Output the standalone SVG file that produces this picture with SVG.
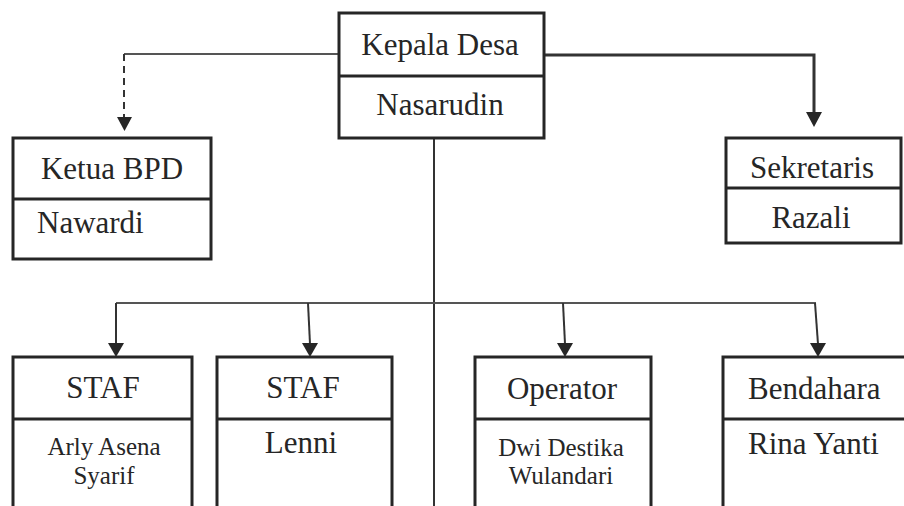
<svg xmlns="http://www.w3.org/2000/svg" width="904" height="506" viewBox="0 0 904 506">
<style>
.box{fill:#fff;stroke:#262626;stroke-width:3}
.div{stroke:#262626;stroke-width:3}
.t{font-family:"Liberation Serif","Times New Roman",serif;fill:#262626;font-size:31px}
.s{font-size:25px}
.c{text-anchor:middle}
.ln{fill:none;stroke:#333;stroke-width:2}
.thick{stroke-width:3}
.thin{fill:none;stroke:#555;stroke-width:2}
.ah{fill:#262626}
</style>
<rect width="904" height="506" fill="#fff"/>
<g id="connectors">
<path class="thin" d="M339,54 H124"/>
<path class="ln" d="M124,54 V118" stroke-dasharray="7,5"/>
<polygon class="ah" points="117,117 132,117 124.5,131"/>
<path class="ln thick" d="M544,55 H814 V113"/>
<polygon class="ah" points="806,112 822,112 814,127"/>
<path class="ln" d="M434,138 V506"/>
<path class="thin" d="M116,303 H816"/>
<path class="ln" d="M116,303 V344"/>
<polygon class="ah" points="108,343 124,343 116,357"/>
<path class="ln" d="M308,303 L310,344"/>
<polygon class="ah" points="302,343 318,343 310,357"/>
<path class="ln" d="M563,303 L565,344"/>
<polygon class="ah" points="557,343 573,343 565,357"/>
<path class="ln" d="M815,303 L818,344"/>
<polygon class="ah" points="810,343 826,343 818,357"/>
</g>
<g id="kepala-desa">
<rect class="box" x="339" y="13" width="205" height="125"/>
<line class="div" x1="339" y1="76" x2="544" y2="76"/>
<text class="t c" x="440" y="55">Kepala Desa</text>
<text class="t c" x="440" y="115">Nasarudin</text>
</g>
<g id="ketua-bpd">
<rect class="box" x="13" y="138" width="198" height="121"/>
<line class="div" x1="13" y1="199" x2="211" y2="199"/>
<text class="t c" x="112" y="179">Ketua BPD</text>
<text class="t" x="37" y="233">Nawardi</text>
</g>
<g id="sekretaris">
<rect class="box" x="726" y="138" width="175" height="105"/>
<line class="div" x1="726" y1="188" x2="901" y2="188"/>
<text class="t c" x="812" y="178">Sekretaris</text>
<text class="t c" x="811" y="228">Razali</text>
</g>
<g id="staf-1">
<rect class="box" x="13" y="357" width="179" height="160"/>
<line class="div" x1="13" y1="419" x2="192" y2="419"/>
<text class="t c" x="103" y="398">STAF</text>
<text class="t s c" x="104" y="455">Arly Asena</text>
<text class="t s c" x="104" y="484">Syarif</text>
</g>
<g id="staf-2">
<rect class="box" x="217" y="357" width="175" height="160"/>
<line class="div" x1="217" y1="419" x2="392" y2="419"/>
<text class="t c" x="303" y="398">STAF</text>
<text class="t c" x="301" y="453">Lenni</text>
</g>
<g id="operator">
<rect class="box" x="475" y="357" width="176" height="160"/>
<line class="div" x1="475" y1="419" x2="651" y2="419"/>
<text class="t c" x="562" y="399">Operator</text>
<text class="t s c" x="561" y="456">Dwi Destika</text>
<text class="t s c" x="561" y="484">Wulandari</text>
</g>
<g id="bendahara">
<rect class="box" x="723" y="357" width="200" height="160"/>
<line class="div" x1="723" y1="419" x2="904" y2="419"/>
<text class="t" x="748" y="399">Bendahara</text>
<text class="t" x="748" y="454">Rina Yanti</text>
</g>
</svg>
